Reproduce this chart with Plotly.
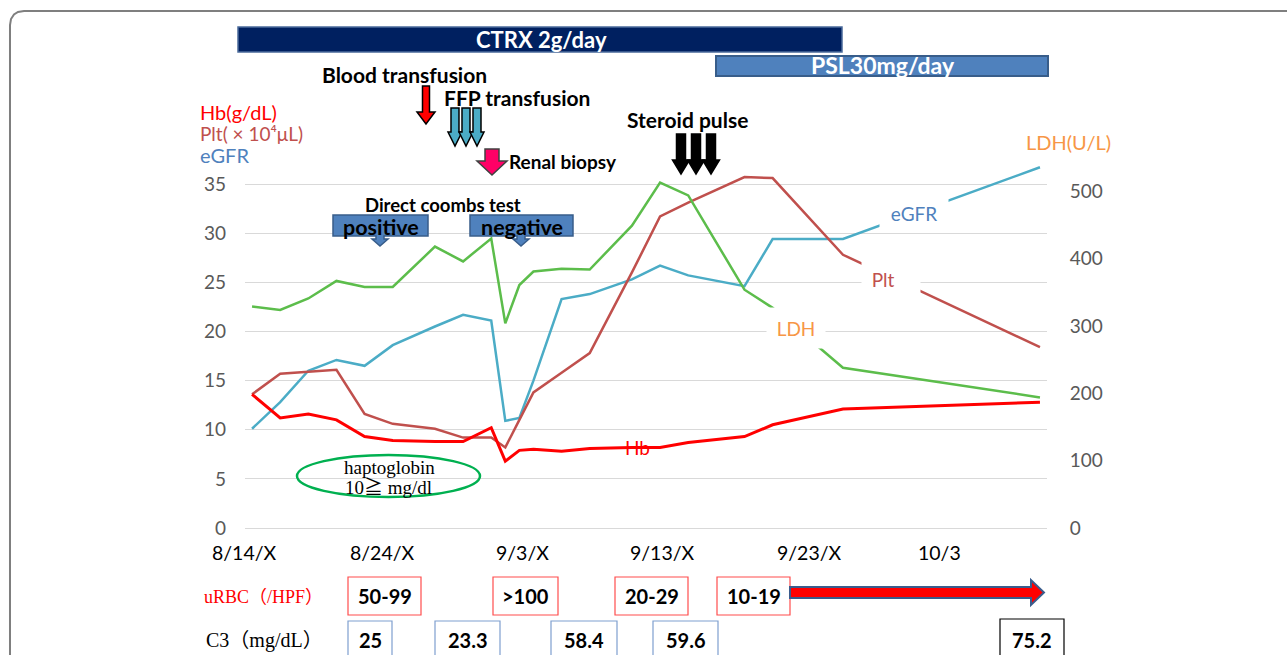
import plotly.graph_objects as go

# ---------------- data ----------------
# day offsets from 8/14
days = [0, 2, 4, 6, 8, 10, 13, 15, 17, 18, 19, 20, 22, 24, 27, 29, 31, 35, 37, 42, 56]
hb = [13.6, 11.2, 11.6, 11.0, 9.3, 8.9, 8.8, 8.8, 10.2, 6.8, 7.9, 8.0, 7.8, 8.1, 8.2, 8.2, 8.7, 9.3, 10.5, 12.1, 12.8]
plt_vals = [13.6, 15.7, 15.9, 16.1, 11.6, 10.6, 10.1, 9.2, 9.2, 8.2, 11.0, 13.8, 15.8, 17.8, 26.0, 31.7, 33.1, 35.7, 35.6, 27.8, 18.4]
egfr = [10.1, 12.8, 16.0, 17.1, 16.5, 18.6, 20.5, 21.7, 21.1, 10.9, 11.2, 15.0, 23.3, 23.8, 25.3, 26.7, 25.7, 24.6, 29.4, 29.4, 36.7]
ldh = [329, 324, 341, 367, 358, 358, 418, 396, 430, 304, 361, 381, 385, 384, 449, 513, 494, 354, 327, 238, 194]

x_labels = ["8/14/X", "8/24/X", "9/3/X", "9/13/X", "9/23/X", "10/3"]
left_ticks = [0, 5, 10, 15, 20, 25, 30, 35]
right_ticks = [0, 100, 200, 300, 400, 500]

urbc_labels = ["50-99", ">100", "20-29", "10-19"]
c3_labels = ["25", "23.3", "58.4", "59.6", "75.2"]

# ---------------- layout helpers (pixel positions) ----------------
W, H = 1287, 655
PL, PR, PT, PB = 245, 1047, 184, 528      # gridline box (0..35 on the left axis)
Y_TOP_L, Y_LEFT_MAX = 38, 35              # headroom so lines can rise above the top gridline
Y_RIGHT_MAX = 511
PT_EXT = PB - (PB - PT) * Y_TOP_L / Y_LEFT_MAX
X_MIN, X_MAX = -0.5, 56.5
x_label_pos = [-0.55, 9.25, 19.2, 29.2, 39.6, 48.85]
urbc_boxes = [(348, 421), (493, 558), (615, 688), (717, 790)]
c3_boxes = [(348, 392), (435, 500), (551, 617), (653, 718), (1000, 1064)]

FONT = "Lato, 'Open Sans', sans-serif"
SERIF = "'Liberation Serif', 'Noto Sans CJK JP', serif"


def X(px):
    return px / W


def Y(py):
    return 1 - py / H


def day_to_px(d):
    return PL + (d - X_MIN) * (PR - PL) / (X_MAX - X_MIN)


shapes = []
annotations = []


def rect(x0, y0, x1, y1, line_color, fill="rgba(0,0,0,0)", lw=1):
    shapes.append(dict(type="rect", xref="paper", yref="paper",
                       x0=X(x0), x1=X(x1), y0=Y(y1), y1=Y(y0),
                       line=dict(color=line_color, width=lw), fillcolor=fill))


def path(points, fill, line_color, lw, close=True):
    d = "M " + " L ".join(f"{X(x):.5f},{Y(y):.5f}" for x, y in points)
    if close:
        d += " Z"
    shapes.append(dict(type="path", xref="paper", yref="paper", path=d,
                       fillcolor=fill, line=dict(color=line_color, width=lw)))


def down_arrow(cx, y0, y1, sw, hw, hh, fill, line_color="black", lw=1.5):
    pts = [(cx - sw / 2, y0), (cx + sw / 2, y0), (cx + sw / 2, y1 - hh),
           (cx + hw / 2, y1 - hh), (cx, y1), (cx - hw / 2, y1 - hh),
           (cx - sw / 2, y1 - hh)]
    path(pts, fill, line_color, lw)


def ann(text, x, y, size, color="black", family=FONT, xanchor="center", **kw):
    annotations.append(dict(text=text, x=X(x), y=Y(y), xref="paper", yref="paper",
                            showarrow=False, xanchor=xanchor, yanchor="middle",
                            font=dict(size=size, color=color, family=family), **kw))


# ---------------- figure ----------------
fig = go.Figure()
fig.add_trace(go.Scatter(x=days, y=egfr, mode="lines", name="eGFR",
                         line=dict(color="#4BACC6", width=2.5)))
fig.add_trace(go.Scatter(x=days, y=plt_vals, mode="lines", name="Plt",
                         line=dict(color="#C0504D", width=2.5)))
fig.add_trace(go.Scatter(x=days, y=hb, mode="lines", name="Hb",
                         line=dict(color="#FF0000", width=3)))
fig.add_trace(go.Scatter(x=days, y=ldh, mode="lines", name="LDH", yaxis="y2",
                         line=dict(color="#5CBD4B", width=2.5)))

# outer frame (rounded corner)
path([(10, 655), (10, 25), (11, 19), (14, 14.5), (18, 12), (24, 11), (1287, 11)],
     "rgba(0,0,0,0)", "#7F7F7F", 2, close=False)

# treatment bars
rect(238, 27, 842, 52, "#4A6A9A", "#002060", 1.5)
ann("<b>CTRX 2g/day</b>", 541, 40, 22, "white")
rect(716, 56, 1048, 76, "#385D8A", "#4F81BD", 2)
ann("<b>PSL30mg/day</b>", 883, 65, 23, "white")

# events
ann("<b>Blood transfusion</b>", 404, 74, 21)
down_arrow(426, 86, 124, 7, 18, 12, "#FF0000")
ann("<b>FFP transfusion</b>", 517, 97, 21)
for cx in (455, 466, 477):
    down_arrow(cx, 108, 146, 8, 14, 14, "#4BACC6")
down_arrow(492, 149, 175, 14, 30, 14, "#FF0066", "#404040", 1.5)
ann("<b>Renal biopsy</b>", 563, 161, 19)
ann("<b>Steroid pulse</b>", 687, 119, 21)
for cx in (681, 696, 711):
    down_arrow(cx, 134, 174, 9, 17, 14, "black")

# left axis title block (three coloured lines)
ann("<span style='font-size:20px;color:#FF0000'>Hb(g/dL)</span><br>"
    "<span style='font-size:19px;color:#C0504D'>Plt(\u00a0×\u00a010⁴μL)</span><br>"
    "<span style='font-size:20px;color:#4F81BD'>eGFR</span>",
    198, 134, 16.5, "#C0504D", xanchor="left", align="left")
ann("LDH(U/L)", 1024, 142, 20, "#F79646", xanchor="left")

# coombs test callouts
ann("<b>Direct coombs test</b>", 443, 205, 18.5)
for (bx0, bx1, cx, label) in [(333, 428, 380, "positive"), (470, 573, 521, "negative")]:
    path([(bx0, 215), (bx1, 215), (bx1, 236), (cx + 4, 236), (cx + 4, 239),
          (cx + 8, 239), (cx, 246), (cx - 8, 239), (cx - 4, 239), (cx - 4, 236),
          (bx0, 236)], "#4F81BD", "#385D8A", 1.5)
    ann(f"<b>{label}</b>", (bx0 + bx1) / 2, 227, 21.5)

# series labels
ann("eGFR", 914, 213, 19, "#4F81BD", bgcolor="white", width=68, height=36, borderpad=0)
ann("\u00a0\u00a0Plt", 891, 279, 19, "#C0504D", bgcolor="white", width=58, height=38,
    borderpad=0, align="left")
ann("LDH", 796, 328, 19, "#F79646", bgcolor="white", width=58, height=40, borderpad=0)
ann("Hb", 637, 447, 19, "#FF0000")

# haptoglobin ellipse
shapes.append(dict(type="circle", xref="paper", yref="paper",
                   x0=X(297), x1=X(480), y0=Y(497), y1=Y(455),
                   line=dict(color="#00B050", width=2.5)))
ann("haptoglobin", 389, 467, 19, family=SERIF)
ann("10≧ mg/dl", 388, 487, 19, family=SERIF)

# x-axis date labels
for lab, pos in zip(x_labels, x_label_pos):
    ann(lab, day_to_px(pos), 552, 19.5)

# uRBC row
ann("uRBC（/HPF）", 263, 597, 18, "#FF0000", family=SERIF)
for (bx0, bx1), lab in zip(urbc_boxes, urbc_labels):
    rect(bx0, 577, bx1, 615, "#FF4D4D", "white", 1.2)
    ann(f"<b>{lab}</b>", (bx0 + bx1) / 2, 596, 20)
path([(790, 587), (1031, 587), (1031, 580), (1044, 592.5), (1031, 605),
      (1031, 598), (790, 598)], "#FF0000", "#3A5C8C", 2)

# C3 row
ann("C3（mg/dL）", 264, 640, 20, "black", family=SERIF)
for i, ((bx0, bx1), lab) in enumerate(zip(c3_boxes, c3_labels)):
    col = "#000000" if i == len(c3_labels) - 1 else "#7F9FCF"
    rect(bx0, 621 if i < 4 else 619, bx1, 662, col, "white", 1.2)
    ann(f"<b>{lab}</b>", (bx0 + bx1) / 2, 640, 20)

fig.update_layout(
    width=W, height=H,
    margin=dict(l=0, r=0, t=0, b=0),
    paper_bgcolor="white", plot_bgcolor="white",
    showlegend=False,
    xaxis=dict(domain=[X(PL), X(PR)], range=[X_MIN, X_MAX], showgrid=False,
               showticklabels=False, zeroline=False, showline=False, ticks=""),
    yaxis=dict(domain=[Y(PB), Y(PT_EXT)], range=[0, Y_TOP_L], tickvals=left_ticks,
               showgrid=True, gridcolor="#D9D9D9", gridwidth=1.2,
               zeroline=True, zerolinecolor="#D9D9D9", zerolinewidth=1.2,
               tickfont=dict(size=19, color="#595959", family=FONT),
               ticks="", ticklabelstandoff=18, automargin=False),
    yaxis2=dict(overlaying="y", side="right",
                range=[0, Y_RIGHT_MAX * Y_TOP_L / Y_LEFT_MAX], tickvals=right_ticks,
                showgrid=False, zeroline=False, showline=False,
                ticks="outside", ticklen=18, tickcolor="rgba(0,0,0,0)",
                tickfont=dict(size=19, color="#595959", family=FONT),
                automargin=False),
    shapes=shapes,
    annotations=annotations,
)

fig.write_html("out.html", config={"displayModeBar": False},
               post_script="document.body.style.margin='0px';")
